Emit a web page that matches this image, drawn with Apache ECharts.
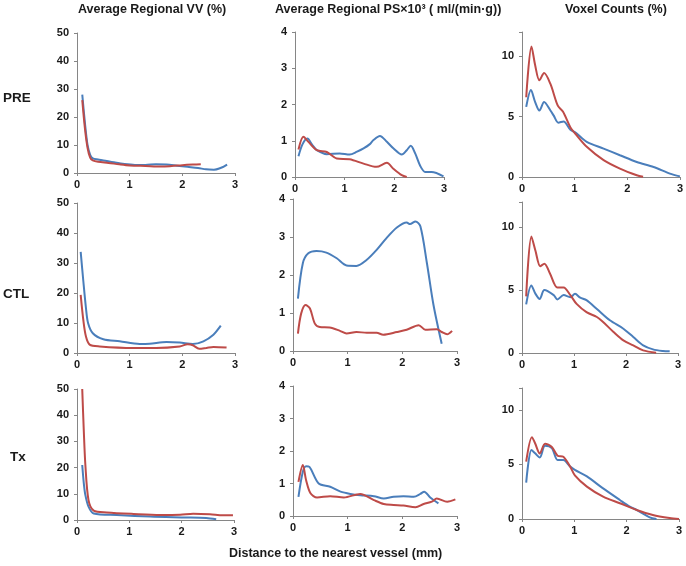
<!DOCTYPE html>
<html>
<head>
<meta charset="utf-8">
<script src="https://cdn.jsdelivr.net/npm/echarts@6/dist/echarts.min.js"></script>
<style>
  html, body { margin: 0; padding: 0; background: #fff; }
  #main { width: 686px; height: 566px; }
</style>
</head>
<body>
<div id="main"></div>
<script>
// column titles, row labels
const colTitles = ["Average Regional VV (%)", "Average Regional PS×10³ ( ml/(min·g))", "Voxel Counts (%)"];
const rowLabels = ["PRE", "CTL", "Tx"];
const xTicks = [0, 1, 2, 3];

// [distance mm, value]  blue / red curves
const vvPreBlue = [[0.1,28],[0.15,18],[0.2,10],[0.25,6.5],[0.3,5.2],[0.4,4.8],[0.5,4.5],[0.7,3.8],[0.9,3.2],[1.1,2.9],[1.3,2.9],[1.5,3.1],[1.7,3.0],[1.9,2.6],[2.1,2.2],[2.3,1.8],[2.45,1.3],[2.6,1.2],[2.7,1.6],[2.85,3.0]];
const vvPreRed = [[0.1,26],[0.15,16],[0.2,9],[0.25,5.5],[0.3,4.5],[0.4,4.0],[0.6,3.6],[0.8,3.1],[1.0,2.7],[1.3,2.5],[1.6,2.3],[1.8,2.5],[2.0,2.8],[2.2,3.0],[2.35,3.1]];
const psPreBlue = [[0.07,0.57],[0.15,0.9],[0.25,1.06],[0.35,0.88],[0.44,0.74],[0.64,0.63],[0.9,0.65],[1.1,0.62],[1.25,0.7],[1.38,0.79],[1.5,0.9],[1.58,1.02],[1.71,1.13],[1.85,0.97],[1.98,0.79],[2.15,0.62],[2.25,0.74],[2.33,0.86],[2.42,0.65],[2.52,0.31],[2.62,0.14],[2.75,0.14],[2.99,0.02]];
const psPreRed = [[0.07,0.76],[0.17,1.11],[0.27,0.97],[0.44,0.74],[0.64,0.69],[0.84,0.51],[1.1,0.49],[1.38,0.37],[1.64,0.28],[1.85,0.39],[1.98,0.23],[2.15,0.05],[2.25,0]];
const voxPreBlue = [[0.08,5.8],[0.17,7.2],[0.25,6.2],[0.33,5.5],[0.42,6.2],[0.54,5.5],[0.6,5.1],[0.69,4.5],[0.79,4.6],[0.92,3.9],[1.01,3.7],[1.23,2.9],[1.55,2.35],[1.86,1.8],[2.18,1.24],[2.5,0.83],[2.81,0.28],[3.0,0.05]];
const voxPreRed = [[0.08,6.6],[0.18,10.8],[0.25,9.25],[0.33,8.0],[0.42,8.6],[0.54,7.7],[0.68,5.9],[0.78,5.4],[0.92,4.1],[1.01,3.6],[1.23,2.5],[1.55,1.4],[1.86,0.7],[2.18,0.15],[2.3,0.02]];

const vvCtlBlue = [[0.07,33.7],[0.12,24],[0.17,15],[0.21,10],[0.3,6.6],[0.5,4.6],[0.81,3.9],[1.19,3.0],[1.38,3.1],[1.7,3.7],[1.95,3.5],[2.2,3.0],[2.4,3.9],[2.59,6.1],[2.73,9.1]];
const vvCtlRed = [[0.07,19.4],[0.12,11],[0.17,5.5],[0.24,2.8],[0.43,2.2],[1.07,1.7],[1.5,1.7],[1.95,2.2],[2.1,2.9],[2.2,2.6],[2.32,1.4],[2.46,1.7],[2.59,2.0],[2.84,1.8]];
const psCtlBlue = [[0.09,1.38],[0.18,2.31],[0.28,2.57],[0.43,2.63],[0.61,2.59],[0.8,2.44],[0.98,2.25],[1.16,2.24],[1.35,2.4],[1.53,2.66],[1.71,2.97],[1.9,3.25],[2.08,3.38],[2.14,3.34],[2.24,3.41],[2.33,3.28],[2.45,2.31],[2.57,1.21],[2.72,0.19]];
const psCtlRed = [[0.09,0.46],[0.15,0.99],[0.23,1.21],[0.31,1.12],[0.4,0.72],[0.49,0.63],[0.67,0.62],[0.86,0.53],[0.98,0.46],[1.16,0.5],[1.35,0.48],[1.53,0.48],[1.65,0.43],[1.9,0.5],[2.08,0.56],[2.3,0.68],[2.42,0.56],[2.63,0.57],[2.72,0.5],[2.82,0.44],[2.91,0.53]];
const voxCtlBlue = [[0.08,3.86],[0.18,5.37],[0.26,4.7],[0.34,4.3],[0.43,5.0],[0.61,4.6],[0.68,4.26],[0.8,4.6],[0.93,4.44],[1.02,4.7],[1.12,4.4],[1.24,4.2],[1.44,3.5],[1.69,2.6],[1.95,1.93],[2.14,1.27],[2.33,0.61],[2.52,0.29],[2.71,0.16],[2.84,0.13]];
const voxCtlRed = [[0.08,4.5],[0.18,9.26],[0.26,8.1],[0.35,6.9],[0.43,7.1],[0.54,6.3],[0.68,5.2],[0.8,5.2],[0.93,4.6],[1.05,3.9],[1.24,3.25],[1.44,2.86],[1.56,2.46],[1.76,1.67],[1.95,1.0],[2.14,0.61],[2.33,0.21],[2.58,0.02]];

const vvTxBlue = [[0.1,21],[0.13,14],[0.16,9.5],[0.22,5.1],[0.32,2.5],[0.76,1.9],[1.4,1.3],[2.03,1.0],[2.47,0.8],[2.66,0.3]];
const vvTxRed = [[0.1,50],[0.13,34],[0.16,21],[0.22,7.6],[0.32,3.6],[0.57,2.9],[1.08,2.3],[1.59,1.9],[1.97,2.0],[2.22,2.4],[2.54,2.2],[2.79,1.8],[2.98,1.8]];
const psTxBlue = [[0.1,0.59],[0.18,1.36],[0.24,1.53],[0.3,1.51],[0.47,1.0],[0.68,0.9],[0.87,0.75],[1.05,0.68],[1.23,0.64],[1.48,0.61],[1.66,0.54],[1.84,0.59],[2.02,0.61],[2.21,0.59],[2.33,0.68],[2.4,0.75],[2.51,0.57],[2.66,0.39]];
const psTxRed = [[0.1,1.05],[0.18,1.57],[0.24,1.1],[0.32,0.7],[0.44,0.57],[0.68,0.61],[0.93,0.57],[1.23,0.68],[1.48,0.49],[1.66,0.37],[1.84,0.34],[2.02,0.32],[2.24,0.27],[2.39,0.37],[2.54,0.44],[2.63,0.54],[2.82,0.44],[2.97,0.51]];
const voxTxBlue = [[0.08,3.33],[0.18,6.33],[0.25,6.02],[0.34,5.63],[0.44,6.7],[0.57,6.5],[0.68,5.4],[0.79,5.4],[0.92,4.8],[1.01,4.5],[1.24,3.9],[1.55,2.8],[1.87,1.74],[2.06,1.13],[2.19,0.83],[2.44,0.15],[2.57,0]];
const voxTxRed = [[0.08,5.26],[0.19,7.5],[0.25,6.94],[0.34,6.0],[0.44,6.9],[0.57,6.6],[0.68,5.8],[0.79,5.7],[0.92,4.8],[1.01,4.0],[1.24,2.97],[1.55,2.05],[1.87,1.44],[2.19,0.83],[2.5,0.37],[2.82,0.09],[3.0,0]];

const FONT = "Liberation Sans, Arial, sans-serif";
const BLUE = "#4a7ebb";
const RED = "#be4b48";

// panel layout: [left, top, width, height], y max, y interval, blue, red
const panels = [
  { rect: [77, 33, 158, 140], max: 50, step: 10, blue: vvPreBlue, red: vvPreRed },
  { rect: [295, 32, 149, 145], max: 4, step: 1, blue: psPreBlue, red: psPreRed },
  { rect: [522, 32, 158, 145], max: 12, step: 5, blue: voxPreBlue, red: voxPreRed },
  { rect: [77, 203, 158, 150], max: 50, step: 10, blue: vvCtlBlue, red: vvCtlRed },
  { rect: [293, 199, 164, 152], max: 4, step: 1, blue: psCtlBlue, red: psCtlRed },
  { rect: [522, 202, 156, 151], max: 12, step: 5, blue: voxCtlBlue, red: voxCtlRed },
  { rect: [77, 389, 157, 131], max: 50, step: 10, blue: vvTxBlue, red: vvTxRed },
  { rect: [293, 386, 164, 130], max: 4, step: 1, blue: psTxBlue, red: psTxRed },
  { rect: [522, 388, 157, 131], max: 12, step: 5, blue: voxTxBlue, red: voxTxRed },
];

const axisCommon = {
  axisLine: { show: true, lineStyle: { color: "#868686", width: 1 } },
  axisTick: { show: true, length: 3, lineStyle: { color: "#868686" } },
  splitLine: { show: false },
  axisLabel: { color: "#1a1a1a", fontFamily: FONT, fontWeight: "bold", fontSize: 11 },
};

let grid = [], xAxis = [], yAxis = [], series = [];
panels.forEach((p, i) => {
  grid.push({ left: p.rect[0], top: p.rect[1], width: p.rect[2], height: p.rect[3] });
  xAxis.push({
    type: "value", gridIndex: i, min: xTicks[0], max: xTicks[xTicks.length - 1], interval: 1,
    ...axisCommon,
    axisLabel: { ...axisCommon.axisLabel, margin: 6 },
  });
  yAxis.push({
    type: "value", gridIndex: i, min: 0, max: p.max, interval: p.step,
    ...axisCommon,
    axisLabel: {
      ...axisCommon.axisLabel, margin: 8,
      formatter: (v) => (v % p.step === 0 ? String(v) : ""),
    },
  });
  [[p.blue, BLUE], [p.red, RED]].forEach(([d, c]) => {
    series.push({
      type: "line", xAxisIndex: i, yAxisIndex: i, data: d,
      smooth: 0.3, showSymbol: false,
      lineStyle: { color: c, width: 2 }, itemStyle: { color: c },
    });
  });
});

const textStyle = { fontFamily: FONT, fontWeight: "bold", fill: "#1a1a1a" };
const graphic = [
  { type: "text", left: 78, top: 3, style: { ...textStyle, text: colTitles[0], fontSize: 12.5 } },
  { type: "text", left: 275, top: 3, style: { ...textStyle, text: colTitles[1], fontSize: 12.5 } },
  { type: "text", left: 565, top: 3, style: { ...textStyle, text: colTitles[2], fontSize: 12.5 } },
  { type: "text", left: 3, top: 91, style: { ...textStyle, text: rowLabels[0], fontSize: 13.5 } },
  { type: "text", left: 3, top: 287, style: { ...textStyle, text: rowLabels[1], fontSize: 13.5 } },
  { type: "text", left: 10, top: 450, style: { ...textStyle, text: rowLabels[2], fontSize: 13.5 } },
  { type: "text", left: 229, top: 547, style: { ...textStyle, text: "Distance to the nearest vessel (mm)", fontSize: 12.5 } },
];

const chart = echarts.init(document.getElementById("main"));
chart.setOption({
  animation: false,
  backgroundColor: "#fff",
  grid, xAxis, yAxis, series, graphic,
});
</script>
</body>
</html>
